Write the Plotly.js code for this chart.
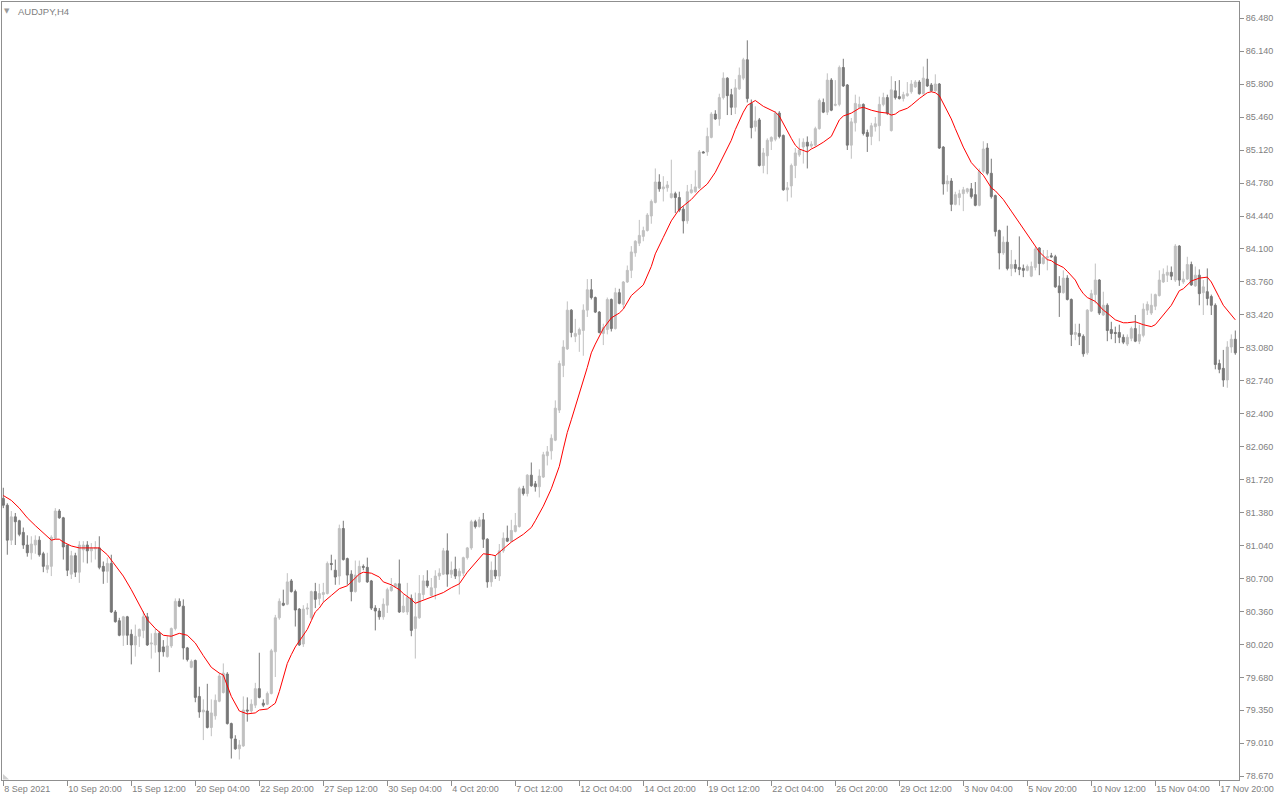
<!DOCTYPE html>
<html>
<head>
<meta charset="utf-8">
<script src="https://cdn.plot.ly/plotly-3.0.1.min.js"></script>
<style>
html,body{margin:0;padding:0;background:#ffffff;}
#chart{width:1280px;height:800px;}
</style>
</head>
<body>
<div id="chart"></div>
<script>
// ---- AUDJPY H4 candles (bar index 0 = 8 Sep 2021 04:00) ----
var openP = [81.53,81.46,81.10,81.34,81.30,81.18,81.05,80.97,81.05,81.10,80.96,80.80,80.83,81.12,81.40,81.33,81.05,80.75,80.94,80.77,
81.00,81.05,80.99,81.01,81.02,80.83,80.78,80.86,80.36,80.27,80.12,80.31,80.13,80.02,80.11,80.17,80.31,80.03,80.02,80.14,
80.00,79.90,80.01,80.19,80.47,80.42,79.99,79.79,79.86,79.49,79.33,79.34,79.17,79.29,79.44,79.53,79.72,79.21,79.05,78.95,
78.98,79.35,79.34,79.40,79.57,79.42,79.41,79.52,79.95,80.30,80.45,80.44,80.68,80.57,80.39,80.03,80.39,80.30,80.57,80.50,
80.54,80.55,80.86,80.79,80.73,81.22,80.91,80.75,80.57,80.67,80.83,80.82,80.68,80.40,80.37,80.31,80.43,80.58,80.62,80.65,
80.36,80.36,80.50,80.19,80.30,80.54,80.68,80.53,80.61,80.73,80.75,80.99,80.75,80.80,80.73,80.76,80.92,81.02,81.29,81.24,
81.31,81.11,80.67,80.79,80.73,80.99,81.12,81.09,81.19,81.24,81.63,81.58,81.77,81.68,81.65,81.75,81.97,82.02,82.13,82.44,
82.90,83.07,83.47,83.20,83.22,83.26,83.47,83.68,83.60,83.45,83.23,83.27,83.58,83.28,83.65,83.53,83.76,83.88,84.06,84.16,
84.23,84.29,84.44,84.58,84.79,84.72,84.73,84.63,84.67,84.63,84.51,84.39,84.68,84.69,84.73,85.10,85.10,85.25,85.49,85.44,
85.66,85.86,85.69,85.56,85.75,85.86,86.05,85.60,85.36,85.43,84.96,85.06,85.21,85.23,85.50,85.27,84.71,84.75,84.96,85.07,
85.15,85.20,85.16,85.17,85.34,85.61,85.51,85.84,85.58,85.59,85.97,85.79,85.17,85.40,85.56,85.59,85.30,85.26,85.36,85.37,
85.59,85.66,85.32,85.73,85.67,85.65,85.68,85.72,85.77,85.82,85.70,85.85,85.79,85.73,85.80,85.15,84.77,84.80,84.56,84.63,
84.67,84.69,84.72,84.66,84.55,84.90,85.14,84.88,84.65,84.29,84.06,84.17,83.90,83.94,83.91,83.90,83.88,83.82,83.91,84.11,
83.95,84.01,84.03,84.02,83.72,83.65,83.80,83.58,83.22,83.23,83.20,83.03,83.46,83.63,83.78,83.42,83.52,83.27,83.24,83.24,
83.19,83.12,83.18,83.28,83.15,83.21,83.47,83.44,83.51,83.62,83.76,83.83,83.86,83.78,84.13,83.76,83.79,83.94,83.72,83.83,
83.65,83.66,83.61,83.52,82.92,82.87,82.75,83.09,83.17];

var highP = [81.64,81.48,81.40,81.38,81.31,81.23,81.15,81.14,81.15,81.14,80.98,80.97,81.15,81.43,81.42,81.34,81.05,80.99,80.97,81.09,
81.09,81.09,81.07,81.09,81.14,80.88,80.92,80.95,80.38,80.30,80.32,80.32,80.18,80.23,80.19,80.37,80.35,80.14,80.19,80.16,
80.07,80.11,80.20,80.50,80.50,80.49,80.00,79.87,79.87,79.59,79.46,79.62,79.46,79.51,79.73,79.83,79.74,79.22,79.09,79.04,
79.49,79.48,79.46,79.63,79.94,79.46,79.54,79.98,80.33,80.50,80.59,80.76,80.70,80.59,80.40,80.43,80.45,80.58,80.66,80.65,
80.66,80.88,80.95,80.90,81.26,81.30,80.92,80.79,80.89,80.89,80.85,80.92,80.69,80.43,80.40,80.50,80.61,80.71,80.66,80.90,
80.54,80.66,80.54,80.56,80.74,80.74,80.79,80.71,80.79,80.81,81.02,81.17,80.88,80.93,80.81,80.93,81.03,81.31,81.31,81.34,
81.38,81.12,80.88,80.94,81.06,81.18,81.25,81.31,81.38,81.65,81.66,81.78,81.90,81.71,81.83,82.01,82.07,82.19,82.54,82.95,
83.16,83.56,83.48,83.38,83.29,83.53,83.79,83.79,83.61,83.46,83.33,83.60,83.59,83.70,83.69,83.77,83.93,84.13,84.19,84.40,
84.33,84.47,84.61,84.93,84.87,84.85,84.80,85.02,84.69,84.69,84.54,84.76,84.77,84.91,85.12,85.11,85.35,85.51,85.53,85.70,
85.92,85.87,85.75,85.85,85.97,86.07,86.25,85.64,85.57,85.45,85.14,85.24,85.26,85.52,85.52,85.28,84.79,84.98,85.14,85.24,
85.24,85.26,85.21,85.36,85.65,85.65,85.91,85.86,85.84,85.99,86.06,85.80,85.45,85.69,85.67,85.60,85.33,85.40,85.46,85.67,
85.71,85.69,85.88,85.83,85.84,85.72,85.82,85.84,85.84,85.84,85.98,86.06,85.81,85.90,85.81,85.16,84.86,84.83,84.69,84.71,
84.74,84.73,84.78,84.79,84.93,85.21,85.19,85.03,84.66,84.30,84.23,84.34,84.09,83.99,84.23,83.94,83.94,83.97,84.12,84.12,
84.09,84.09,84.06,84.04,83.82,83.88,83.83,83.59,83.33,83.33,83.22,83.48,83.68,83.95,83.79,83.66,83.54,83.35,83.30,83.32,
83.22,83.22,83.30,83.42,83.32,83.54,83.56,83.64,83.64,83.88,83.90,83.93,83.92,84.15,84.14,83.87,84.02,83.97,83.92,83.89,
83.78,83.90,83.63,83.54,82.96,83.06,83.15,83.22,83.26];

var lowP = [81.43,80.95,81.05,81.05,81.14,81.01,80.93,80.90,80.96,80.93,80.77,80.76,80.73,81.11,81.32,80.90,80.73,80.70,80.72,80.66,
80.87,80.86,80.87,80.90,80.80,80.65,80.66,80.35,80.25,80.11,80.01,80.02,79.82,79.90,80.00,80.09,80.01,79.88,79.94,79.74,
79.90,79.89,79.99,80.17,80.41,79.87,79.85,79.78,79.43,79.27,79.04,79.16,79.08,79.25,79.43,79.52,79.20,78.85,78.94,78.84,
78.97,79.23,79.32,79.37,79.47,79.38,79.40,79.51,79.69,80.28,80.42,80.43,80.56,80.21,80.01,80.00,80.33,80.28,80.40,80.43,
80.46,80.54,80.79,80.64,80.64,80.89,80.64,80.47,80.56,80.66,80.79,80.66,80.38,80.17,80.28,80.28,80.35,80.57,80.61,80.35,
80.35,80.33,80.11,79.88,80.29,80.49,80.61,80.52,80.49,80.69,80.74,80.62,80.71,80.70,80.54,80.73,80.90,81.00,81.22,81.23,
81.02,80.61,80.62,80.70,80.68,80.97,81.08,81.08,81.18,81.23,81.56,81.55,81.65,81.60,81.54,81.74,81.87,81.93,82.12,82.41,
82.78,83.06,83.19,83.14,83.04,83.00,83.40,83.58,83.44,83.23,83.11,83.22,83.25,83.27,83.53,83.49,83.75,83.80,84.02,84.13,
84.18,84.28,84.36,84.57,84.69,84.59,84.69,84.62,84.47,84.48,84.26,84.36,84.67,84.68,84.72,85.09,85.06,85.24,85.43,85.37,
85.64,85.48,85.48,85.49,85.74,85.84,85.61,85.24,85.31,84.95,84.88,84.87,85.12,85.21,85.24,84.70,84.59,84.63,84.83,85.05,
84.98,84.93,85.14,85.15,85.33,85.50,85.48,85.52,85.57,85.57,85.77,85.12,85.03,85.31,85.55,85.27,85.10,85.17,85.31,85.21,
85.57,85.48,85.31,85.64,85.64,85.62,85.67,85.70,85.76,85.69,85.69,85.77,85.72,85.72,85.13,84.66,84.69,84.49,84.55,84.55,
84.49,84.67,84.62,84.54,84.54,84.88,84.86,84.62,84.23,83.89,84.04,83.88,83.82,83.86,83.83,83.81,83.87,83.81,83.88,83.83,
83.94,83.88,84.01,83.70,83.40,83.64,83.57,83.10,83.16,83.11,82.99,83.01,83.45,83.54,83.42,83.41,83.15,83.17,83.13,83.13,
83.12,83.10,83.15,83.14,83.12,83.19,83.42,83.42,83.47,83.61,83.75,83.76,83.78,83.76,83.72,83.74,83.78,83.72,83.71,83.52,
83.42,83.52,83.42,82.86,82.82,82.68,82.67,83.03,83.01];

var closeP = [81.46,81.10,81.34,81.29,81.16,81.05,80.97,81.06,81.10,80.95,80.83,80.84,81.13,81.40,81.33,81.03,80.79,80.94,80.77,81.05,
81.05,80.99,81.02,81.02,80.82,80.78,80.86,80.36,80.26,80.12,80.31,80.12,80.02,80.11,80.18,80.31,80.02,80.04,80.14,79.95,
79.95,80.01,80.19,80.47,80.42,79.99,79.87,79.85,79.48,79.33,79.35,79.17,79.32,79.45,79.70,79.73,79.21,79.06,78.95,78.99,
79.35,79.34,79.41,79.57,79.48,79.40,79.52,79.96,80.30,80.47,80.43,80.67,80.57,80.38,80.02,80.39,80.40,80.57,80.49,80.55,
80.56,80.86,80.85,80.72,81.22,80.90,80.74,80.57,80.74,80.83,80.82,80.67,80.40,80.37,80.31,80.44,80.59,80.62,80.65,80.36,
80.42,80.51,80.17,80.31,80.55,80.68,80.63,80.61,80.73,80.76,80.99,80.75,80.79,80.73,80.78,80.92,81.02,81.29,81.24,81.31,
81.11,80.67,80.79,80.73,80.99,81.12,81.09,81.20,81.25,81.63,81.58,81.77,81.66,81.65,81.76,81.98,82.01,82.15,82.46,82.92,
83.09,83.47,83.24,83.23,83.27,83.47,83.68,83.60,83.45,83.24,83.29,83.58,83.28,83.65,83.54,83.76,83.88,84.07,84.18,84.24,
84.29,84.45,84.59,84.79,84.72,84.74,84.76,84.67,84.63,84.50,84.39,84.69,84.71,84.74,85.10,85.09,85.26,85.49,85.44,85.66,
85.86,85.68,85.56,85.76,85.89,86.05,85.65,85.35,85.42,84.96,85.09,85.22,85.25,85.50,85.26,84.71,84.73,84.96,85.09,85.12,
85.20,85.16,85.18,85.34,85.63,85.51,85.84,85.53,85.59,85.97,85.78,85.17,85.41,85.60,85.59,85.29,85.26,85.37,85.39,85.59,
85.66,85.50,85.74,85.66,85.65,85.69,85.70,85.80,85.82,85.70,85.86,85.78,85.73,85.80,85.14,84.77,84.80,84.56,84.66,84.67,
84.71,84.72,84.64,84.55,84.90,85.13,84.88,84.64,84.28,84.06,84.17,83.90,83.94,83.90,83.89,83.88,83.92,83.92,84.10,83.95,
84.01,84.02,84.02,83.71,83.65,83.80,83.58,83.22,83.24,83.20,83.02,83.47,83.64,83.78,83.44,83.52,83.26,83.23,83.23,83.19,
83.14,83.19,83.28,83.15,83.22,83.48,83.53,83.52,83.63,83.78,83.84,83.86,83.82,84.13,83.78,83.79,83.94,83.73,83.83,83.64,
83.71,83.59,83.52,82.91,82.86,82.75,83.09,83.17,83.03];

// ---- moving average (red line), read at these bar indices ----
var maIdx = [0,2,4,6,8,10,12,13,14,15,17,19,21,23,24,26,28,30,32,34,36,38,40,42,44,46,48,50,52,54,55,57,59,61,63,64,66,67,68,69,70,71,72,73,74,76,77,78,79,80,82,84,86,87,89,90,92,94,95,97,99,100,102,103,105,107,110,112,114,116,118,120,122,123,125,127,130,132,133,135,137,139,140,141,142,143,144,146,147,148,150,152,154,155,157,160,162,163,165,167,169,172,174,176,178,179,181,182,183,184,185,186,188,190,191,193,194,195,197,198,199,201,202,203,205,207,208,209,210,212,214,215,217,219,221,222,223,224,226,227,229,231,232,233,234,235,237,238,240,242,243,244,245,247,248,249,250,252,254,255,257,258,259,261,262,263,265,266,268,269,270,271,273,275,276,278,280,281,283,285,287,288,289,290,292,294,295,297,299,301,302,304,305,307,308];
var maVal = [81.56,81.51,81.43,81.33,81.25,81.17,81.10,81.11,81.11,81.08,81.04,81.02,81.02,81.02,81.02,80.95,80.84,80.73,80.59,80.44,80.28,80.19,80.12,80.11,80.14,80.12,80.04,79.91,79.79,79.73,79.71,79.49,79.34,79.31,79.32,79.35,79.36,79.39,79.42,79.54,79.68,79.83,79.92,80.00,80.06,80.18,80.27,80.36,80.40,80.46,80.53,80.60,80.63,80.67,80.75,80.77,80.76,80.72,80.67,80.64,80.59,80.55,80.49,80.45,80.48,80.51,80.56,80.61,80.65,80.77,80.87,80.96,80.95,80.94,81.01,81.08,81.16,81.23,81.30,81.45,81.63,81.86,82.04,82.21,82.34,82.47,82.61,82.88,83.03,83.12,83.28,83.39,83.44,83.48,83.62,83.73,83.92,84.05,84.22,84.39,84.51,84.61,84.70,84.77,84.89,84.97,85.14,85.22,85.33,85.43,85.51,85.58,85.63,85.57,85.55,85.51,85.47,85.39,85.24,85.17,85.13,85.10,85.13,85.15,85.20,85.26,85.34,85.43,85.47,85.50,85.55,85.56,85.53,85.51,85.50,85.48,85.49,85.52,85.55,85.58,85.65,85.71,85.72,85.71,85.68,85.60,85.44,85.34,85.15,84.99,84.94,84.90,84.86,84.73,84.70,84.65,84.61,84.49,84.37,84.32,84.20,84.14,84.07,83.99,83.98,83.95,83.91,83.87,83.78,83.70,83.64,83.60,83.56,83.47,83.44,83.37,83.34,83.34,83.35,83.32,83.30,83.32,83.37,83.42,83.52,83.67,83.69,83.77,83.80,83.81,83.76,83.60,83.52,83.42,83.37];

// ---- axis labels ----
var xTickIdx = [0,16,32,48,64,80,96,112,128,144,160,176,192,208,224,240,256,272,288,304];
var xTickText = ["8 Sep 2021","10 Sep 20:00","15 Sep 12:00","20 Sep 04:00","22 Sep 20:00","27 Sep 12:00","30 Sep 04:00","4 Oct 20:00","7 Oct 12:00","12 Oct 04:00",
"14 Oct 20:00","19 Oct 12:00","22 Oct 04:00","26 Oct 20:00","29 Oct 12:00","3 Nov 04:00","5 Nov 20:00","10 Nov 12:00","15 Nov 04:00","17 Nov 20:00"];
var yTickText = ["86.480","86.140","85.800","85.460","85.120","84.780","84.440","84.100","83.760","83.420","83.080","82.740","82.400","82.060","81.720","81.380","81.040","80.700","80.360","80.020","79.680","79.350","79.010","78.670"];

var idx = openP.map(function(_, i){ return i; });
var yTickVals = yTickText.map(parseFloat);

var BULL = '#c0c0c0', BEAR = '#777777', FRAME = '#8f8f8f', TXT = '#808080';

var candles = {
  type: 'candlestick',
  x: idx, open: openP, high: highP, low: lowP, close: closeP,
  increasing: {line: {color: BULL, width: 1}, fillcolor: BULL},
  decreasing: {line: {color: BEAR, width: 1}, fillcolor: BEAR},
  whiskerwidth: 0,
  hoverinfo: 'skip',
  showlegend: false
};
var ma = {
  type: 'scatter', mode: 'lines',
  x: maIdx, y: maVal,
  line: {color: '#ff0000', width: 1},
  hoverinfo: 'skip', showlegend: false
};

var layout = {
  width: 1280, height: 800,
  margin: {l: 2, r: 41, t: 2, b: 20, pad: 0},
  paper_bgcolor: '#ffffff', plot_bgcolor: '#ffffff',
  boxgap: 0.5, boxgroupgap: 0,
  showlegend: false,
  font: {family: 'Liberation Sans, Arial, sans-serif', size: 9, color: TXT},
  xaxis: {
    type: 'linear', range: [-0.325, 308.925],
    showgrid: false, zeroline: false,
    showline: true, mirror: true, linecolor: FRAME, linewidth: 1,
    ticks: 'outside', ticklen: 5, tickwidth: 1, tickcolor: FRAME,
    tickmode: 'array', tickvals: xTickIdx, ticktext: xTickText,
    ticklabelposition: 'outside right',
    tickfont: {family: 'Liberation Sans, Arial, sans-serif', size: 9, color: TXT},
    rangeslider: {visible: false}, fixedrange: true
  },
  yaxis: {
    side: 'right', range: [78.6288, 86.6449],
    showgrid: false, zeroline: false,
    showline: true, mirror: true, linecolor: FRAME, linewidth: 1,
    ticks: 'outside', ticklen: 4, tickwidth: 1, tickcolor: FRAME,
    tickmode: 'array', tickvals: yTickVals, ticktext: yTickText,
    tickfont: {family: 'Liberation Sans, Arial, sans-serif', size: 9, color: TXT},
    fixedrange: true
  },
  shapes: [
    {type: 'path', xref: 'paper', yref: 'paper', layer: 'above',
     path: 'M 0.0008 0.0077 L 0.0008 0.0006 L 0.0057 0.0006 Z',
     fillcolor: '#cfcfcf', line: {width: 0}}
  ],
  annotations: [
    {xref: 'paper', yref: 'paper', x: 0.0125, y: 0.9875, xanchor: 'left', yanchor: 'middle',
     text: 'AUDJPY,H4', showarrow: false, borderpad: 0,
     font: {family: 'Liberation Sans, Arial, sans-serif', size: 9.5, color: TXT}},
    {xref: 'paper', yref: 'paper', x: 0.0040, y: 0.9880, xanchor: 'center', yanchor: 'middle',
     text: '▼', showarrow: false, borderpad: 0,
     font: {family: 'DejaVu Sans, sans-serif', size: 7, color: '#9a9a9a'}}
  ]
};

Plotly.newPlot('chart', [candles, ma], layout, {staticPlot: true, displayModeBar: false});
</script>
</body>
</html>
